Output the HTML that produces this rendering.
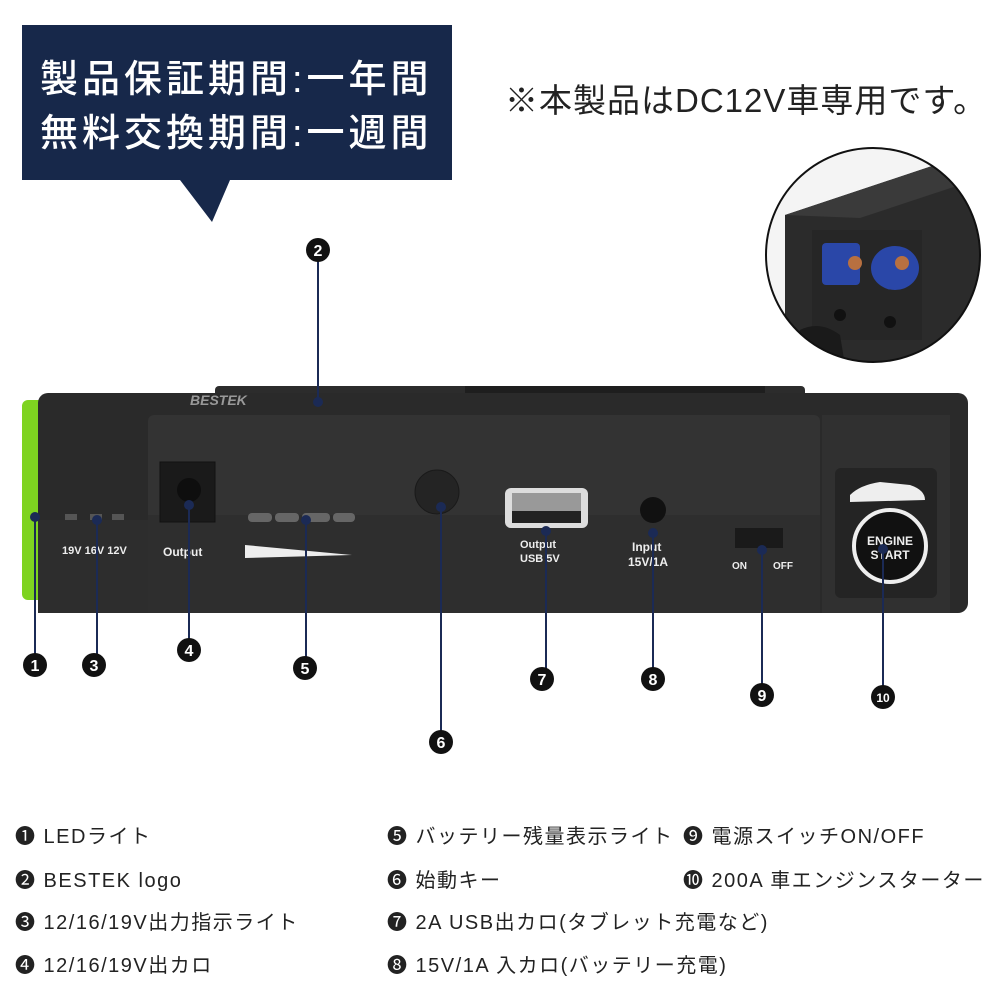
<!DOCTYPE html>
<html><head><meta charset="utf-8"><style>
body{margin:0;background:#fff;width:1000px;height:1000px;overflow:hidden}
svg{display:block}
text{font-family:"Liberation Sans","Noto Sans CJK JP",sans-serif}
</style></head><body>
<svg width="1000" height="1000" viewBox="0 0 1000 1000" xmlns="http://www.w3.org/2000/svg">
<path d="M22 25 H452 V180 H230 L212 222 L180 180 H22 Z" fill="#17284a"/>
<text x="40" y="92" fill="#fff" font-size="38" font-weight="500" letter-spacing="4" font-family="Noto Sans CJK JP,sans-serif">製品保証期間:一年間</text>
<text x="40" y="146" fill="#fff" font-size="38" font-weight="500" letter-spacing="4" font-family="Noto Sans CJK JP,sans-serif">無料交換期間:一週間</text>
<text x="505" y="112" fill="#222" font-size="33" letter-spacing="1" font-family="Noto Sans CJK JP,sans-serif">※本製品はDC12V車専用です。</text>
<defs><clipPath id="c"><circle cx="873" cy="255" r="107"/></clipPath></defs>
<g clip-path="url(#c)">
<rect x="760" y="145" width="230" height="220" fill="#f4f4f4"/>
<path d="M785 215 L950 160 L990 170 L990 365 L785 365 Z" fill="#2b2b2b"/>
<path d="M785 215 L950 160 L990 175 L860 218 Z" fill="#3a3a3a"/>
<rect x="812" y="230" width="110" height="110" fill="#262626"/>
<rect x="822" y="243" width="38" height="42" rx="4" fill="#2a47a8"/>
<ellipse cx="895" cy="268" rx="24" ry="22" fill="#2a47a8"/>
<circle cx="855" cy="263" r="7" fill="#b87040"/>
<circle cx="902" cy="263" r="7" fill="#b87040"/>
<circle cx="840" cy="315" r="6" fill="#111"/>
<circle cx="890" cy="322" r="6" fill="#111"/>
<path d="M800 330 Q820 320 840 335 L845 365 L790 365Z" fill="#1a1a1a"/>
</g>
<circle cx="873" cy="255" r="107" fill="none" stroke="#111" stroke-width="2"/>
<rect x="215" y="386" width="590" height="20" rx="4" fill="#2c2c2c"/>
<rect x="465" y="386" width="300" height="24" fill="#1e1e1e"/>
<rect x="22" y="400" width="30" height="200" rx="6" fill="#7ed320"/>
<rect x="38" y="393" width="930" height="220" rx="10" fill="#2a2a2a"/>
<rect x="822" y="415" width="128" height="198" fill="#303030"/>
<rect x="148" y="415" width="672" height="198" rx="6" fill="#333333"/>
<rect x="148" y="515" width="672" height="98" fill="#2e2e2e"/>
<rect x="38" y="520" width="110" height="93" fill="#2d2d2d"/>
<text x="190" y="405" fill="#999" font-size="14" font-weight="bold" font-style="italic">BESTEK</text>
<rect x="160" y="462" width="55" height="60" fill="#1a1a1a" stroke="#111"/>
<circle cx="189" cy="490" r="12" fill="#0e0e0e"/>
<rect x="65" y="514" width="12" height="6" fill="#555"/><rect x="90" y="514" width="12" height="6" fill="#555"/><rect x="112" y="514" width="12" height="6" fill="#555"/>
<text x="62" y="554" fill="#eee" font-size="11" font-weight="bold">19V 16V 12V</text>
<text x="163" y="556" fill="#eee" font-size="12" font-weight="bold">Output</text>
<g fill="#666"><rect x="248" y="513" width="24" height="9" rx="4"/><rect x="275" y="513" width="24" height="9" rx="4"/><rect x="302" y="513" width="28" height="9" rx="4"/><rect x="333" y="513" width="22" height="9" rx="4"/></g>
<path d="M245 545 L352 555 L245 558Z" fill="#eee"/>
<circle cx="437" cy="492" r="22" fill="#242424" stroke="#1a1a1a"/>
<rect x="505" y="488" width="83" height="40" rx="6" fill="#ddd"/>
<rect x="512" y="493" width="69" height="18" fill="#999"/>
<rect x="512" y="511" width="69" height="12" fill="#222"/>
<text x="520" y="548" fill="#eee" font-size="11" font-weight="bold">Output</text>
<text x="520" y="562" fill="#eee" font-size="11" font-weight="bold">USB 5V</text>
<circle cx="653" cy="510" r="13" fill="#111"/>
<text x="632" y="551" fill="#eee" font-size="12" font-weight="bold">Input</text>
<text x="628" y="566" fill="#eee" font-size="12" font-weight="bold">15V/1A</text>
<rect x="735" y="528" width="48" height="20" fill="#1a1a1a"/>
<text x="732" y="569" fill="#eee" font-size="10" font-weight="bold">ON</text>
<text x="773" y="569" fill="#eee" font-size="10" font-weight="bold">OFF</text>
<rect x="835" y="468" width="102" height="130" rx="6" fill="#242424"/>
<path d="M850 495 Q860 485 880 482 L910 485 Q925 490 925 500 L850 502Z" fill="#eee"/>
<circle cx="890" cy="546" r="36" fill="#111" stroke="#eee" stroke-width="4"/>
<text x="890" y="545" fill="#eee" font-size="12" font-weight="bold" text-anchor="middle">ENGINE</text>
<text x="890" y="559" fill="#eee" font-size="12" font-weight="bold" text-anchor="middle">START</text>
<g stroke="#1b2a55" stroke-width="2">
<line x1="318" y1="402" x2="318" y2="255"/>
<line x1="35" y1="517" x2="35" y2="665"/>
<line x1="97" y1="520" x2="97" y2="665"/>
<line x1="189" y1="505" x2="189" y2="650"/>
<line x1="306" y1="520" x2="306" y2="668"/>
<line x1="441" y1="507" x2="441" y2="742"/>
<line x1="546" y1="531" x2="546" y2="679"/>
<line x1="653" y1="533" x2="653" y2="679"/>
<line x1="762" y1="550" x2="762" y2="695"/>
<line x1="883" y1="549" x2="883" y2="697"/>
</g>
<g fill="#1b2a55">
<circle cx="318" cy="402" r="5"/><circle cx="35" cy="517" r="5"/><circle cx="97" cy="520" r="5"/><circle cx="189" cy="505" r="5"/><circle cx="306" cy="520" r="5"/><circle cx="441" cy="507" r="5"/><circle cx="546" cy="531" r="5"/><circle cx="653" cy="533" r="5"/><circle cx="762" cy="550" r="5"/><circle cx="883" cy="549" r="5"/>
</g>
<g font-size="16" font-weight="bold" text-anchor="middle" fill="#fff">
<circle cx="318" cy="250" r="12" fill="#111"/><text x="318" y="256">2</text>
<circle cx="35" cy="665" r="12" fill="#111"/><text x="35" y="671">1</text>
<circle cx="94" cy="665" r="12" fill="#111"/><text x="94" y="671">3</text>
<circle cx="189" cy="650" r="12" fill="#111"/><text x="189" y="656">4</text>
<circle cx="305" cy="668" r="12" fill="#111"/><text x="305" y="674">5</text>
<circle cx="441" cy="742" r="12" fill="#111"/><text x="441" y="748">6</text>
<circle cx="542" cy="679" r="12" fill="#111"/><text x="542" y="685">7</text>
<circle cx="653" cy="679" r="12" fill="#111"/><text x="653" y="685">8</text>
<circle cx="762" cy="695" r="12" fill="#111"/><text x="762" y="701">9</text>
<circle cx="883" cy="697" r="12" fill="#111"/><text x="883" y="702" font-size="12">10</text>
</g>
<g font-size="20" fill="#222" letter-spacing="1.5" font-family="Liberation Sans,Noto Sans CJK JP,sans-serif">
<text x="15" y="843">❶ LEDライト</text>
<text x="15" y="887">❷ BESTEK logo</text>
<text x="15" y="929">❸ 12/16/19V出力指示ライト</text>
<text x="15" y="972">❹ 12/16/19V出カロ</text>
<text x="387" y="843">❺ バッテリー残量表示ライト</text>
<text x="387" y="887">❻ 始動キー</text>
<text x="387" y="929">❼ 2A USB出カロ(タブレット充電など)</text>
<text x="387" y="972">❽ 15V/1A 入カロ(バッテリー充電)</text>
<text x="683" y="843">❾ 電源スイッチON/OFF</text>
<text x="683" y="887">❿ 200A 車エンジンスターター</text>
</g>
</svg>
</body></html>
